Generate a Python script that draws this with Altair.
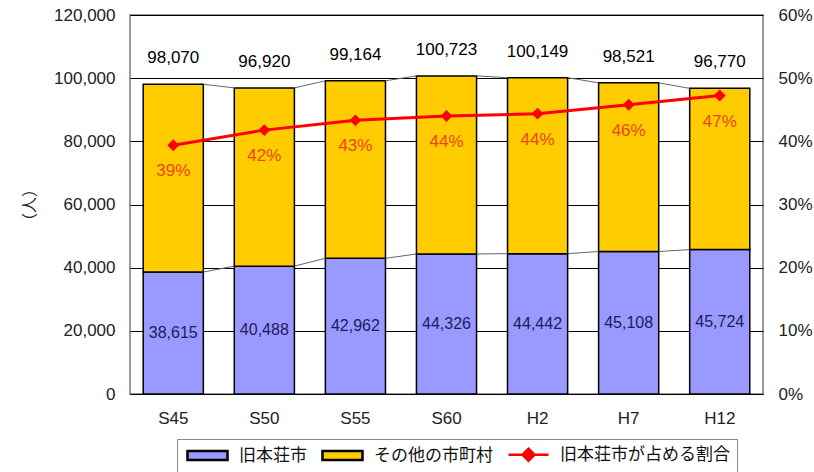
import altair as alt
import pandas as pd

# ---- data ----
years = ["S45", "S50", "S55", "S60", "H2", "H7", "H12"]
total = [98070, 96920, 99164, 100723, 100149, 98521, 96770]
honjo = [38615, 40488, 42962, 44326, 44442, 45108, 45724]
series_names = ["旧本荘市", "その他の市町村", "旧本荘市が占める割合"]
left_ticks = [0, 20000, 40000, 60000, 80000, 100000, 120000]
right_ticks = [0, 0.1, 0.2, 0.3, 0.4, 0.5, 0.6]

share = [h / t for h, t in zip(honjo, total)]

bars_df = pd.DataFrame({
    "year": years * 2,
    "series": [series_names[0]] * len(years) + [series_names[1]] * len(years),
    "lo": [0] * len(years) + honjo,
    "hi": honjo + total,
})
tot_df = pd.DataFrame({"year": years, "total": total, "label": [f"{v:,}" for v in total]})
hon_df = pd.DataFrame({"year": years, "mid": [h / 2 for h in honjo], "label": [f"{v:,}" for v in honjo]})
share_df = pd.DataFrame({"year": years, "share": share,
                         "label": [f"{round(s * 100):d}%" for s in share]})
seg_df = pd.DataFrame({
    "c1": years[:-1] * 2, "c2": years[1:] * 2,
    "v1": total[:-1] + honjo[:-1], "v2": total[1:] + honjo[1:],
})
leg_df = pd.DataFrame({"series": series_names})

FONT = "Liberation Sans"
JP = "Noto Sans CJK JP"

xscale = alt.Scale(domain=years, paddingInner=0.34, paddingOuter=0.145)
yscale = alt.Scale(domain=[0, 120000], nice=False)
pscale = alt.Scale(domain=[0, 0.6], nice=False)

xaxis = alt.Axis(title=None, labelAngle=0, ticks=False, domain=True, domainColor="#000000",
                 labelPadding=16, labelFontSize=17, labelColor="#222222", labelFont=FONT, grid=False)
yaxis = alt.Axis(title="（人）", values=left_ticks, format=",.0f", grid=True, gridColor="#000000",
                 gridWidth=1, ticks=False, domain=False, labelPadding=15, labelFontSize=17,
                 labelColor="#222222", labelFont=FONT, titleFont=JP, titleFontSize=16,
                 titleFontWeight="normal", titleColor="#222222", titlePadding=16)
paxis = alt.Axis(title=None, values=right_ticks, format=".0%", orient="right", grid=False,
                 ticks=False, domain=False, labelPadding=15, labelFontSize=17,
                 labelColor="#222222", labelFont=FONT)

bars = alt.Chart(bars_df).mark_bar(stroke="#000000", strokeWidth=1.5).encode(
    x=alt.X("year:N", scale=xscale, axis=xaxis),
    y=alt.Y("lo:Q", scale=yscale, axis=yaxis),
    y2="hi:Q",
    fill=alt.Fill("series:N", scale=alt.Scale(domain=series_names[:2],
                                              range=["#9999FF", "#FFCC00"]), legend=None),
)

segs = alt.Chart(seg_df).mark_rule(color="#666666", strokeWidth=1).encode(
    x=alt.X("c1:N", scale=xscale, bandPosition=1, axis=xaxis),
    x2=alt.X2("c2:N", bandPosition=0),
    y=alt.Y("v1:Q", scale=yscale, axis=yaxis),
    y2="v2:Q",
)

tot_text = alt.Chart(tot_df).mark_text(fontSize=17, font=FONT, color="#000000", dy=-26,
                                       baseline="middle").encode(
    x=alt.X("year:N", scale=xscale, axis=xaxis),
    y=alt.Y("total:Q", scale=yscale, axis=yaxis),
    text="label:N",
)

hon_text = alt.Chart(hon_df).mark_text(fontSize=16, font=FONT, color="#1c1c5a",
                                       baseline="middle").encode(
    x=alt.X("year:N", scale=xscale, axis=xaxis),
    y=alt.Y("mid:Q", scale=yscale, axis=yaxis),
    text="label:N",
)

left = alt.layer(bars, segs, tot_text, hon_text)

line = alt.Chart(share_df).mark_line(
    color="#FF0000", strokeWidth=3,
    point=alt.OverlayMarkDef(shape="diamond", size=140, filled=True, color="#FF0000"),
).encode(
    x=alt.X("year:N", scale=xscale, axis=xaxis),
    y=alt.Y("share:Q", scale=pscale, axis=paxis),
)

pct_text = alt.Chart(share_df).mark_text(fontSize=17, font=FONT, color="#EE4411", dy=26,
                                         baseline="middle").encode(
    x=alt.X("year:N", scale=xscale, axis=xaxis),
    y=alt.Y("share:Q", scale=pscale, axis=paxis),
    text="label:N",
)

right = alt.layer(line, pct_text)

rect_path = "M-1,-0.9H7V0.9H-1Z"
line_path = "M-1,0H7M3,-1.2L4.2,0L3,1.2L1.8,0Z"

legend = alt.Legend(
    title=None, orient="none", legendX=47, legendY=424, direction="horizontal", columns=3,
    labelFont=JP, labelFontSize=17, labelColor="#111111", labelLimit=400,
    symbolSize=100, symbolStrokeWidth=2.5, labelOffset=38, columnPadding=10,
    padding=7, strokeColor="#888888", fillColor="#FFFFFF", rowPadding=0,
)

leg_layer = alt.Chart(leg_df).transform_filter("false").mark_point(filled=True, opacity=1).encode(
    color=alt.Color("series:N", scale=alt.Scale(domain=series_names,
                                                range=["#9999FF", "#FFCC00", "#FF0000"]),
                    legend=legend),
    shape=alt.Shape("series:N", scale=alt.Scale(domain=series_names,
                                                range=[rect_path, rect_path, line_path]),
                    legend=legend),
    stroke=alt.Stroke("series:N", scale=alt.Scale(domain=series_names,
                                                  range=["#000000", "#000000", "#FF0000"]),
                      legend=legend),
)

chart = alt.layer(left, right, leg_layer).resolve_scale(y="independent").properties(
    width=633, height=379,
    autosize=alt.AutoSizeParams(type="none"),
    padding={"left": 130, "top": 15, "right": 51, "bottom": 78},
    background="#FFFFFF",
).configure_view(stroke="#777777", strokeWidth=1.5).configure_text(font=FONT)

chart.save("out.html", embed_options={"renderer": "svg", "actions": False})
